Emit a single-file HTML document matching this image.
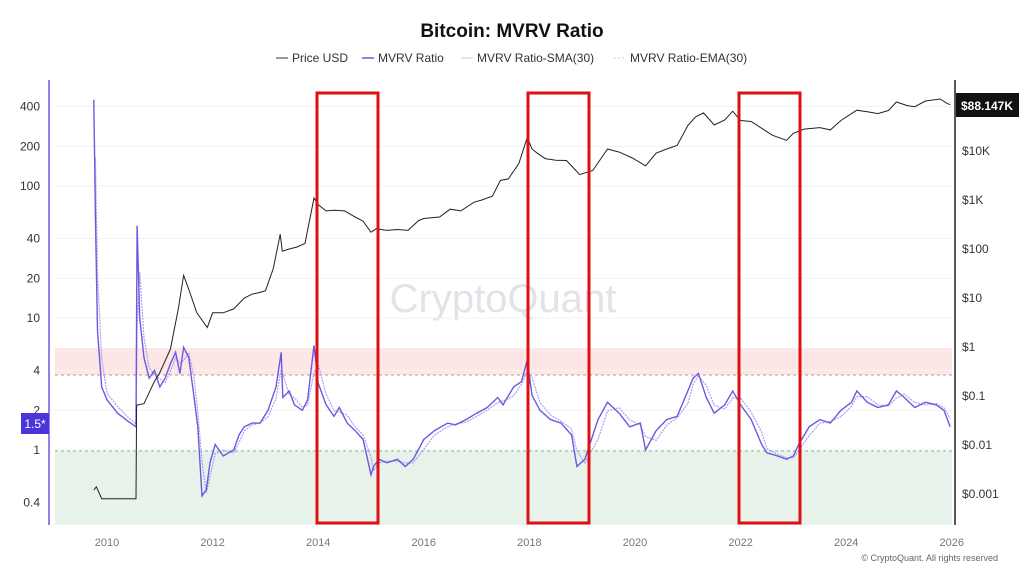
<!DOCTYPE html>
<html><head><meta charset="utf-8"><style>
body{margin:0;background:#fff;font-family:"Liberation Sans",sans-serif}
</style></head><body>
<svg id="c" width="1024" height="576" viewBox="0 0 1024 576" xmlns="http://www.w3.org/2000/svg" font-family="Liberation Sans, sans-serif">
<text x="512" y="37" text-anchor="middle" font-size="19" font-weight="bold" fill="#111">Bitcoin: MVRV Ratio</text>
<g font-size="12" fill="#333">
<line x1="276" y1="58" x2="288" y2="58" stroke="#333"/><text x="292" y="62">Price USD</text>
<line x1="362" y1="58" x2="374" y2="58" stroke="#6a5ae0" stroke-width="1.5"/><text x="378" y="62">MVRV Ratio</text>
<line x1="461" y1="58" x2="473" y2="58" stroke="#ccc"/><text x="477" y="62">MVRV Ratio-SMA(30)</text>
<line x1="614" y1="58" x2="626" y2="58" stroke="#ccc" stroke-dasharray="2,2"/><text x="630" y="62">MVRV Ratio-EMA(30)</text>
</g>
<text x="503" y="312" text-anchor="middle" font-size="40" fill="#e2e2e8">CryptoQuant</text>
<rect x="55" y="348" width="897" height="27" fill="#fde6e6"/>
<rect x="55" y="451" width="897" height="74" fill="#e6f2ea"/>
<line x1="55" y1="375" x2="952" y2="375" stroke="#d88" stroke-dasharray="3,3"/>
<line x1="55" y1="451" x2="952" y2="451" stroke="#8b8" stroke-dasharray="3,3"/>
<g id="grid"></g><g id="series"></g>
<line x1="49" y1="80" x2="49" y2="525" stroke="#6a5ae0" stroke-width="1.5"/>
<line x1="955" y1="80" x2="955" y2="525" stroke="#222" stroke-width="1.5"/>
<g id="axes" font-size="12" fill="#333"></g>
<rect x="21" y="413" width="28" height="21" fill="#4a35d8"/>
<text x="35" y="428" text-anchor="middle" font-size="12" fill="#fff">1.5*</text>
<rect x="956" y="93" width="63" height="24" fill="#111"/>
<text x="987" y="110" text-anchor="middle" font-size="12" font-weight="bold" fill="#fff">$88.147K</text>
<g fill="none" stroke="#dd1111" stroke-width="3">
<rect x="317" y="93" width="61" height="430"/><rect x="528" y="93" width="61" height="430"/><rect x="739" y="93" width="61" height="430"/>
</g>
<text x="998" y="561" text-anchor="end" font-size="9" fill="#666">© CryptoQuant. All rights reserved</text>
</svg>
<script>
const priceT=[2009.75,2009.8,2009.9,2010.0,2010.3,2010.55,2010.56,2010.7,2010.9,2011.0,2011.2,2011.35,2011.45,2011.55,2011.7,2011.9,2012.0,2012.2,2012.4,2012.6,2012.75,2012.9,2013.0,2013.15,2013.28,2013.32,2013.45,2013.6,2013.75,2013.92,2014.0,2014.15,2014.3,2014.5,2014.7,2014.85,2015.0,2015.1,2015.3,2015.5,2015.7,2015.9,2016.0,2016.3,2016.5,2016.7,2016.95,2017.1,2017.3,2017.45,2017.6,2017.8,2017.96,2018.05,2018.15,2018.3,2018.5,2018.7,2018.88,2018.95,2019.2,2019.48,2019.7,2019.95,2020.2,2020.4,2020.6,2020.8,2021.0,2021.15,2021.3,2021.5,2021.7,2021.85,2022.0,2022.2,2022.4,2022.6,2022.87,2023.0,2023.2,2023.5,2023.7,2023.9,2024.2,2024.4,2024.6,2024.8,2024.95,2025.15,2025.3,2025.5,2025.78,2025.9,2025.97];
const priceV=[0.0012,0.0014,0.0008,0.0008,0.0008,0.0008,0.065,0.07,0.2,0.3,0.9,6,29,15,5,2.5,5,5,6,10,12,13,14,40,200,90,100,110,130,1100,800,600,620,600,450,370,220,260,240,250,240,380,420,450,650,600,900,1000,1200,2500,2700,5500,19000,11000,9000,7000,6500,6400,4000,3300,4000,11000,9500,7200,5000,9000,11000,13000,33000,50000,60000,34000,43000,65000,42000,40000,29000,21000,16500,23000,28000,30000,27000,42000,68000,63000,58000,67000,100000,85000,80000,105000,115000,95000,88147];
const mvrvT=[2009.75,2009.78,2009.82,2009.9,2010.0,2010.2,2010.4,2010.55,2010.57,2010.62,2010.7,2010.8,2010.9,2011.0,2011.1,2011.2,2011.3,2011.38,2011.45,2011.55,2011.65,2011.72,2011.8,2011.88,2011.95,2012.05,2012.2,2012.4,2012.5,2012.6,2012.75,2012.9,2013.05,2013.2,2013.3,2013.33,2013.45,2013.55,2013.7,2013.8,2013.92,2014.0,2014.15,2014.3,2014.4,2014.55,2014.7,2014.85,2015.0,2015.05,2015.15,2015.3,2015.5,2015.65,2015.8,2016.0,2016.2,2016.45,2016.6,2016.8,2017.0,2017.2,2017.4,2017.5,2017.7,2017.85,2017.96,2018.05,2018.2,2018.4,2018.6,2018.8,2018.9,2019.05,2019.3,2019.48,2019.7,2019.9,2020.1,2020.2,2020.4,2020.6,2020.8,2021.0,2021.1,2021.2,2021.35,2021.5,2021.7,2021.85,2022.0,2022.2,2022.4,2022.5,2022.7,2022.87,2023.0,2023.1,2023.3,2023.5,2023.7,2023.9,2024.1,2024.2,2024.4,2024.6,2024.8,2024.95,2025.1,2025.3,2025.5,2025.7,2025.85,2025.97];
const mvrvV=[450,60,8,3,2.4,1.9,1.65,1.5,50,10,5,3.5,4,3,3.5,4.5,5.5,3.8,6,5,2.5,1.5,0.45,0.5,0.8,1.1,0.9,1.0,1.3,1.5,1.6,1.6,2.0,3.0,5.5,2.5,2.8,2.2,2.0,2.4,6.2,3.2,2.2,1.8,2.1,1.6,1.4,1.2,0.65,0.75,0.85,0.8,0.85,0.75,0.85,1.2,1.4,1.6,1.55,1.7,1.9,2.1,2.5,2.2,3.0,3.3,4.8,2.6,2.0,1.7,1.6,1.3,0.75,0.85,1.7,2.3,1.9,1.5,1.6,1.0,1.4,1.7,1.8,2.8,3.5,3.8,2.5,1.9,2.2,2.8,2.2,1.7,1.1,0.95,0.9,0.85,0.9,1.1,1.5,1.7,1.6,2.0,2.3,2.8,2.3,2.1,2.2,2.8,2.5,2.1,2.3,2.2,2.0,1.5];
const leftTicks=[400,200,100,40,20,10,4,2,1,0.4];
const rightTicks=[[10000,"$10K"],[1000,"$1K"],[100,"$100"],[10,"$10"],[1,"$1"],[0.1,"$0.1"],[0.01,"$0.01"],[0.001,"$0.001"]];
const xTicks=[2010,2012,2014,2016,2018,2020,2022,2024,2026];
const X=t=>107+(t-2010)*52.8;
const YL=v=>450-132*Math.log10(v);
const YR=p=>347-49*Math.log10(p);
const NS="http://www.w3.org/2000/svg";
function mk(tag,attrs,parent,txt){const e=document.createElementNS(NS,tag);for(const k in attrs)e.setAttribute(k,attrs[k]);if(txt!=null)e.textContent=txt;document.getElementById(parent).appendChild(e);return e;}
leftTicks.forEach(v=>{mk('line',{x1:55,x2:952,y1:YL(v),y2:YL(v),stroke:'#f2f2f2'},'grid');
const t=mk('text',{x:40,y:YL(v)+4,'text-anchor':'end'},'axes',String(v));

});
rightTicks.forEach(([p,l])=>{const t=mk('text',{x:962,y:YR(p)+4},'axes',l);

});
xTicks.forEach(y=>{const t=mk('text',{x:X(y),y:546,'text-anchor':'middle','font-size':'11',fill:'#777'},'axes',String(y));

});
function pathFrom(T,V,yf){return T.map((t,i)=>(i?'L':'M')+X(t).toFixed(1)+','+yf(V[i]).toFixed(1)).join('');}
// SMA-like smoothed companion from the data
const sm=mvrvV.map((v,i)=>{const a=mvrvV.slice(Math.max(0,i-1),i+1);return Math.exp(a.reduce((s,x)=>s+Math.log(x),0)/a.length);});
const s1=mk('path',{d:pathFrom(mvrvT.slice(1),sm.slice(1),YL),fill:'none',stroke:'#a99ef0','stroke-width':1.2,'stroke-dasharray':'2,1'},'series');


const m=mk('path',{d:pathFrom(mvrvT,mvrvV,YL),fill:'none',stroke:'#6a5ae0','stroke-width':1.4},'series');


const p=mk('path',{d:pathFrom(priceT,priceV,YR),fill:'none',stroke:'#222','stroke-width':1},'series');


</script>
</body></html>
